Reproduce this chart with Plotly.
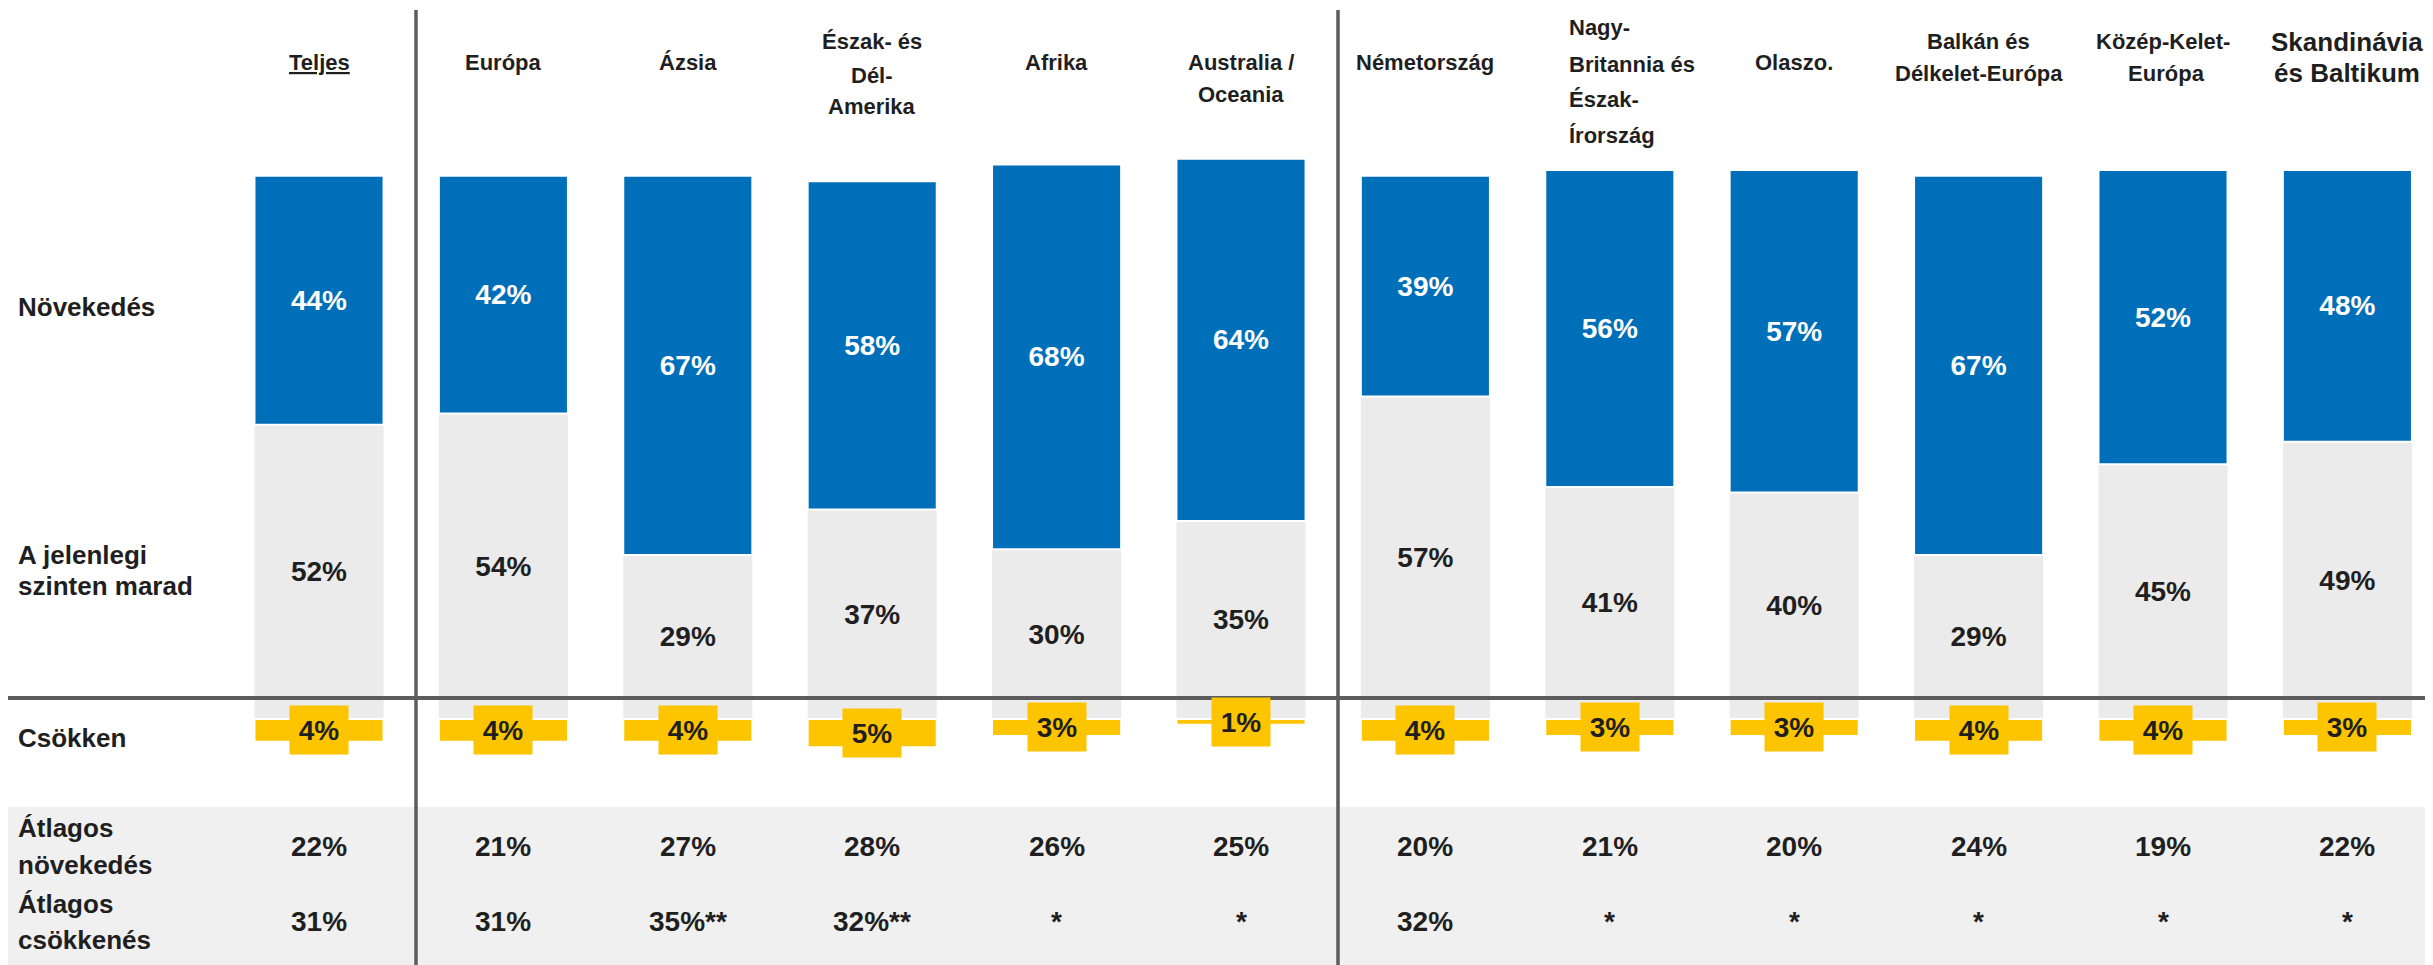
import plotly.graph_objects as go

# Adatok
fejlecek = ["<u>Teljes</u>", "Európa", "Ázsia", "Észak- és\nDél-\nAmerika", "Afrika",
            "Australia /\nOceania", "Németország", "Nagy-\nBritannia és\nÉszak-\nÍrország",
            "Olaszo.", "Balkán és\nDélkelet-Európa", "Közép-Kelet-\n Európa", "Skandinávia\nés Baltikum"]
novekedes = [44, 42, 67, 58, 68, 64, 39, 56, 57, 67, 52, 48]
marad = [52, 54, 29, 37, 30, 35, 57, 41, 40, 29, 45, 49]
csokken = [4, 4, 4, 5, 3, 1, 4, 3, 3, 4, 4, 3]
atlag_nov = ["22%", "21%", "27%", "28%", "26%", "25%", "20%", "21%", "20%", "24%", "19%", "22%"]
atlag_csok = ["31%", "31%", "35%**", "32%**", "*", "*", "32%", "*", "*", "*", "*", "*"]
sor_cimkek = ["Növekedés", "A jelenlegi\nszinten marad", "Csökken", "Átlagos\nnövekedés", "Átlagos\ncsökkenés"]

# Elrendezes (pixelben, a kepernyon mert ertekek)
W, H = 2433, 965
OFF = 8  # a html body margoja
FONT = "Liberation Sans, Arial, sans-serif"
SZOVEG = "#1f1f1f"
KEK = "#006FB9"
SZURKE = "#EBEBEB"
SARGA = "#FDC400"
VONAL = "#5c5c5c"

fejlec_y = [[62], [62], [62], [42, 76, 107], [62], [62, 95], [63], [28, 65, 100, 135],
            [62], [42, 74], [42, 74], [42, 73]]
sor_y = [[307], [555, 586], [738], [828, 865], [904, 940]]


def px(p):
    return (p - OFF) / W


def py(p):
    return 1 - (p - OFF) / H


idx = list(range(len(novekedes)))
x0 = -(319 - OFF) / 184.4
xr = [x0, x0 + W / 184.4]
skala = 543.3 / 96
yr = [-(H - (719 - OFF)) / skala, (719 - OFF) / skala]

fig = go.Figure()
fig.add_trace(go.Bar(
    x=idx, y=marad, width=0.7, marker=dict(color=SZURKE, line=dict(width=0)),
    text=[f"{v}%" for v in marad], textposition="inside", insidetextanchor="middle",
    textangle=0, textfont=dict(family=FONT, size=28, color=SZOVEG, weight="bold")))
fig.add_trace(go.Bar(
    x=idx, y=novekedes, width=0.7, marker=dict(color=KEK, line=dict(color="white", width=2)),
    text=[f"{v}%" for v in novekedes], textposition="inside", insidetextanchor="middle",
    textangle=0, textfont=dict(family=FONT, size=28, color="white", weight="bold")))
fig.add_trace(go.Bar(
    x=idx, y=[-v for v in csokken], width=0.7,
    marker=dict(color=SARGA, line=dict(color="white", width=2)), hoverinfo="skip"))

annot = []
# csokken cimkek sarga hatterrel
for i, v in zip(idx, csokken):
    annot.append(dict(x=i, y=-v / 2, xref="x", yref="y", text=f"{v}%", showarrow=False,
                      xanchor="center", yanchor="middle",
                      bgcolor=SARGA, width=56, height=46,
                      font=dict(family=FONT, size=28, color=SZOVEG, weight="bold")))

# fejlecek
for i, (f, ys) in enumerate(zip(fejlecek, fejlec_y)):
    meret = 26 if i == len(fejlecek) - 1 else 22
    betu = dict(family=FONT, size=meret, color=SZOVEG, weight="bold")
    for sor, yy in zip(f.split("\n"), ys):
        if i == 7:
            annot.append(dict(x=px(1567), y=py(yy), xref="paper", yref="paper", text=sor,
                              showarrow=False, xanchor="left", yanchor="middle", font=betu))
        else:
            annot.append(dict(x=i, y=py(yy), xref="x", yref="paper", text=sor,
                              showarrow=False, xanchor="center", yanchor="middle", font=betu))

# sorok cimkei
for c, ys in zip(sor_cimkek, sor_y):
    for sor, yy in zip(c.split("\n"), ys):
        annot.append(dict(x=px(16), y=py(yy), xref="paper", yref="paper", text=sor,
                          showarrow=False, xanchor="left", yanchor="middle",
                          font=dict(family=FONT, size=26, color=SZOVEG, weight="bold")))

# atlagos sorok
for i in idx:
    annot.append(dict(x=i, y=py(846), xref="x", yref="paper", text=atlag_nov[i], showarrow=False,
                      xanchor="center", yanchor="middle",
                      font=dict(family=FONT, size=28, color=SZOVEG, weight="bold")))
    annot.append(dict(x=i, y=py(921), xref="x", yref="paper", text=atlag_csok[i], showarrow=False,
                      xanchor="center", yanchor="middle",
                      font=dict(family=FONT, size=28, color=SZOVEG, weight="bold")))

shapes = [
    dict(type="rect", xref="paper", yref="paper", x0=px(8), x1=1, y0=0, y1=py(807),
         fillcolor="#F0F0F0", line=dict(width=0), layer="below"),
    dict(type="line", xref="paper", yref="paper", x0=px(8), x1=px(2427), y0=py(698), y1=py(698),
         line=dict(color=VONAL, width=4)),
    dict(type="line", xref="x", yref="paper", x0=0.526, x1=0.526, y0=0, y1=py(10),
         line=dict(color=VONAL, width=3.5)),
    dict(type="line", xref="x", yref="paper", x0=5.526, x1=5.526, y0=0, y1=py(10),
         line=dict(color=VONAL, width=3.5)),
]

fig.update_layout(
    width=W, height=H, margin=dict(l=0, r=0, t=0, b=0),
    barmode="relative", showlegend=False,
    paper_bgcolor="white", plot_bgcolor="rgba(0,0,0,0)",
    xaxis=dict(visible=False, range=xr, fixedrange=True),
    yaxis=dict(visible=False, range=yr, fixedrange=True),
    annotations=annot, shapes=shapes,
)

fig.write_html("out.html")
